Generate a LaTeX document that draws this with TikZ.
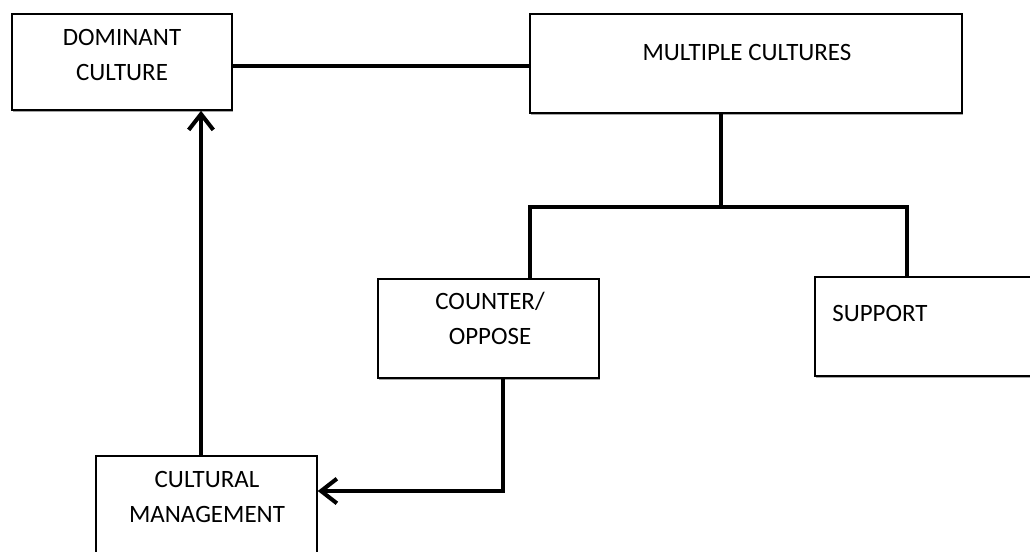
\documentclass[tikz,border=0pt]{standalone}
\usepackage{fontspec}
\setmainfont{Carlito}
\usetikzlibrary{arrows.meta,shadows}
\begin{document}
\begin{tikzpicture}[x=0.02cm,y=-0.02cm,
	box/.style={draw,fill=white,line width=0.9pt,inner sep=0pt,
		drop shadow={shadow xshift=0.6pt,shadow yshift=-1.4pt,opacity=0.7}},
	txt/.style={align=center,inner sep=0pt,font={\fontsize{14.2}{20}\selectfont}},
	link/.style={line width=2.3pt},
	tip/.style={link,-{Straight Barb[length=9pt,width=14pt]}}]
	\useasboundingbox (0,0) rectangle (1030,551);
	\node[box,minimum width=4.4cm,minimum height=1.92cm] (dom) at (122,62) {};
	\node[box,minimum width=8.64cm,minimum height=1.98cm] (multi) at (746,63.5) {};
	\node[box,minimum width=4.42cm,minimum height=1.98cm] (cnt) at (488.5,328.5) {};
	\node[box,minimum width=4.6cm,minimum height=1.98cm] (sup) at (930,326.5) {};
	\node[box,minimum width=4.42cm,minimum height=2.88cm] (cult) at (206.5,528) {};
	\node[txt] (domtxt) at (122,55) {DOMINANT\\CULTURE};
	\node[txt] (multitxt) at (747,52) {MULTIPLE CULTURES};
	\node[txt] (cnttxt) at (490,318) {COUNTER/\\OPPOSE};
	\node[txt,anchor=west] (suptxt) at (832,313) {SUPPORT};
	\node[txt] (culttxt) at (207,497) {CULTURAL\\MANAGEMENT};
	\coordinate (split) at (721,207);
	\coordinate (jl) at (530,207);
	\coordinate (jr) at (907,207);
	\coordinate (bend) at (503,491);
	\coordinate (up) at (201,456);
	\draw[link] (dom.east |- 0,66) -- (multi.west |- 0,66);
	\draw[link] (split |- multi.south) -- (split);
	\draw[link] (jl |- cnt.north) -- (jl) -- (jr) -- (jr |- sup.north);
	\draw[tip] (bend |- cnt.south) -- (bend) -- (bend -| cult.east);
	\draw[tip] (up) -- (up |- dom.south);
\end{tikzpicture}
\end{document}
